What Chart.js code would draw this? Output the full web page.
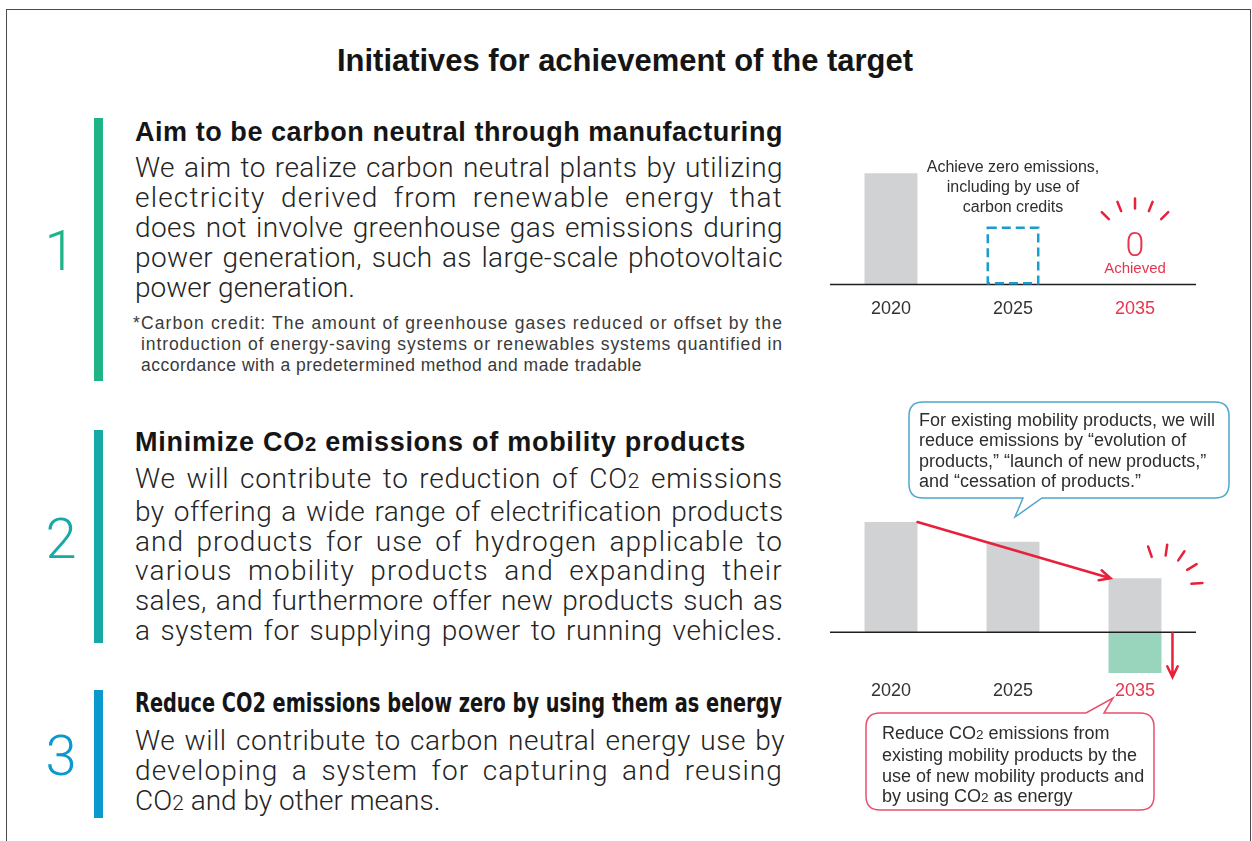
<!DOCTYPE html>
<html>
<head>
<meta charset="utf-8">
<script src="https://cdn.jsdelivr.net/npm/chart.js@4.4.0/dist/chart.umd.min.js"></script>
<style>
html, body { margin: 0; padding: 0; background: #fff; }
body { width: 1252px; height: 841px; position: relative; overflow: hidden;
       font-family: "Liberation Sans", Arial, sans-serif; color: #2d2d2d; }
.frame { position: absolute; left: 6px; top: 9px; width: 1245px; height: 840px; box-sizing: border-box;
         border: 1.5px solid #4a4a4a; border-bottom: none; }
.abs { position: absolute; white-space: nowrap; }
.ln { display: inline-block; white-space: nowrap; transform-origin: left center; }
.title { font-weight: bold; font-size: 31px; line-height: 31px; color: #151515; }
.head { font-weight: bold; font-size: 27px; line-height: 27px; color: #151515; }
.head.cond { font-family: "Liberation Sans Narrow", "DejaVu Sans Condensed", sans-serif; font-size: 26px; }
.body { font-family: Roboto, "Open Sans", sans-serif; font-weight: 300; font-size: 28px; color: #242424; }
.note { font-size: 17.5px; line-height: 21px; color: #3a3a3a; }
.num { font-family: Roboto, "Open Sans", sans-serif; font-weight: 300; font-size: 56px; line-height: 56px; width: 40px; text-align: center; }
.bar { position: absolute; left: 94px; width: 9px; }
.bub { font-size: 18px; line-height: 20.4px; color: #2d2d2d; }
.sub { font-size: 75%; }
canvas { position: absolute; }
svg { position: absolute; left: 0; top: 0; }
</style>
</head>
<body>
<div class="frame"></div>

<div class="abs title" style="left:337px; top:45px;"><span class="ln" data-w="576">Initiatives for achievement of the target</span></div>

<!-- 1 -->
<div class="bar" style="top:118px; height:263px; background:#1fb488;"></div>
<div class="abs num" style="left:40px; top:223px; color:#1fb488;">1</div>
<div class="abs head" style="left:135px; top:119px;"><span class="ln" data-w="648">Aim to be carbon neutral through manufacturing</span></div>
<div class="abs body" style="left:135px; top:153px; line-height:30px;">
  <div><span class="ln j" data-w="648">We aim to realize carbon neutral plants by utilizing</span></div>
  <div><span class="ln j" data-w="648">electricity derived from renewable energy that</span></div>
  <div><span class="ln j" data-w="648">does not involve greenhouse gas emissions during</span></div>
  <div><span class="ln j" data-w="648">power generation, such as large-scale photovoltaic</span></div>
  <div><span class="ln">power generation.</span></div>
</div>
<div class="abs note" style="left:133px; top:313px;">
  <div><span class="ln" data-w="650">*Carbon credit: The amount of greenhouse gases reduced or offset by the</span></div>
  <div style="padding-left:8px;"><span class="ln" data-w="642">introduction of energy-saving systems or renewables systems quantified in</span></div>
  <div style="padding-left:8px;"><span class="ln" data-w="501">accordance with a predetermined method and made tradable</span></div>
</div>

<!-- 2 -->
<div class="bar" style="top:430px; height:213px; background:#16a9a6;"></div>
<div class="abs num" style="left:41px; top:511px; color:#16a9a6;">2</div>
<div class="abs head" style="left:135px; top:429px;"><span class="ln" data-w="611">Minimize CO<span class="sub">2</span> emissions of mobility products</span></div>
<div class="abs body" style="left:135px; top:464px; line-height:29.8px;">
  <div><span class="ln j" data-w="648">We will contribute to reduction of CO<span class="sub">2</span> emissions</span></div>
  <div><span class="ln j" data-w="648">by offering a wide range of electrification products</span></div>
  <div><span class="ln j" data-w="648">and products for use of hydrogen applicable to</span></div>
  <div><span class="ln j" data-w="648">various mobility products and expanding their</span></div>
  <div><span class="ln j" data-w="648">sales, and furthermore offer new products such as</span></div>
  <div><span class="ln j" data-w="648">a system for supplying power to running vehicles.</span></div>
</div>

<!-- 3 -->
<div class="bar" style="top:690px; height:128px; background:#0b98cc;"></div>
<div class="abs num" style="left:41px; top:728px; color:#0b98cc;">3</div>
<div class="abs head cond" style="left:135px; top:690px;"><span class="ln" data-w="647">Reduce CO2 emissions below zero by using them as energy</span></div>
<div class="abs body" style="left:135px; top:726px; line-height:29.8px;">
  <div><span class="ln j" data-w="650">We will contribute to carbon neutral energy use by</span></div>
  <div><span class="ln j" data-w="648">developing a system for capturing and reusing</span></div>
  <div><span class="ln">CO<span class="sub">2</span> and by other means.</span></div>
</div>

<canvas id="plantChart" width="420" height="200" style="left:820px; top:140px;"></canvas>
<canvas id="mobilityChart" width="420" height="210" style="left:820px; top:500px;"></canvas>

<svg width="1252" height="841">
  <path d="M923 402 H1215 Q1229 402 1229 416 V484 Q1229 498 1215 498 H1042 L1015 517 L1023 498 H923 Q909 498 909 484 V416 Q909 402 923 402 Z"
        fill="#fff" stroke="#4ea7cf" stroke-width="1.5"/>
  <path d="M880 713 H1086 L1113 698 L1104 713 H1140 Q1154 713 1154 727 V796 Q1154 810 1140 810 H880 Q866 810 866 796 V727 Q866 713 880 713 Z"
        fill="#fff" stroke="#e8506a" stroke-width="1.5"/>
</svg>

<div class="abs" style="left:913px; top:157px; width:200px; text-align:center; font-size:16px; line-height:20px; color:#2d2d2d;">
  Achieve zero emissions,<br>including by use of<br>carbon credits
</div>
<div class="abs bub" style="left:919px; top:410px;">
  For existing mobility products, we will<br>reduce emissions by “evolution of<br>products,” “launch of new products,”<br>and “cessation of products.”
</div>
<div class="abs bub" style="left:882px; top:723px;">
  Reduce CO<span class="sub">2</span> emissions from<br>existing mobility products by the<br>use of new mobility products and<br>by using CO<span class="sub">2</span> as energy
</div>

<script>
const years = ['2020', '2025', '2035'];

// chart 1: emissions of plants
const plantEmissions = [100, null, 0];
const creditTarget = [null, 52, null];

// chart 2: emissions of mobility products
const productEmissions = [100, 82, 49];
const energyUse = [null, null, -37];

const GRAY = '#d1d2d4';
const GREEN = '#99d4bd';
const RED = '#e8203c';
const RED_LABEL = '#e8354f';
const BLUE = '#1a9ccf';

// stretch each text line to the width it has in the layout
function fitLines() {
    document.querySelectorAll('.ln[data-w]').forEach(el => {
        const w = +el.dataset.w;
        const natural = el.getBoundingClientRect().width;
        if (natural > w) {
            el.style.transform = `scaleX(${w / natural})`;
            return;
        }
        const extra = w - natural;
        const chars = el.textContent.length;
        const spaces = (el.textContent.match(/ /g) || []).length;
        if (el.classList.contains('j') && spaces) {
            el.style.letterSpacing = (extra * 0.6 / chars) + 'px';
            el.style.wordSpacing = (extra * 0.4 / spaces) + 'px';
        } else {
            el.style.letterSpacing = (extra / chars) + 'px';
        }
    });
}

function sparkles(ctx, cx, cy, angles, r0, r1) {
    ctx.save();
    ctx.strokeStyle = RED;
    ctx.lineWidth = 2.5;
    ctx.lineCap = 'round';
    angles.forEach(a => {
        const t = a * Math.PI / 180;
        ctx.beginPath();
        ctx.moveTo(cx + r0 * Math.cos(t), cy + r0 * Math.sin(t));
        ctx.lineTo(cx + r1 * Math.cos(t), cy + r1 * Math.sin(t));
        ctx.stroke();
    });
    ctx.restore();
}

function arrow(ctx, x0, y0, x1, y1) {
    const t = Math.atan2(y1 - y0, x1 - x0);
    ctx.save();
    ctx.strokeStyle = RED;
    ctx.lineWidth = 2.5;
    ctx.lineCap = 'round';
    ctx.beginPath();
    ctx.moveTo(x0, y0);
    ctx.lineTo(x1, y1);
    ctx.moveTo(x1 - 12 * Math.cos(t - 0.45), y1 - 12 * Math.sin(t - 0.45));
    ctx.lineTo(x1, y1);
    ctx.lineTo(x1 - 12 * Math.cos(t + 0.45), y1 - 12 * Math.sin(t + 0.45));
    ctx.stroke();
    ctx.restore();
}

function zeroLine(chart) {
    const { ctx, chartArea, scales } = chart;
    const y0 = scales.y.getPixelForValue(0);
    ctx.save();
    ctx.strokeStyle = '#1e1e1e';
    ctx.lineWidth = 1.5;
    ctx.beginPath();
    ctx.moveTo(chartArea.left, y0);
    ctx.lineTo(chartArea.right, y0);
    ctx.stroke();
    ctx.restore();
    return y0;
}

const plantDecor = {
    id: 'plantDecor',
    afterDatasetsDraw(chart) {
        const { ctx, scales } = chart;
        const y0 = zeroLine(chart);
        // dashed target box for 2025
        const box = chart.getDatasetMeta(1).data[1];
        ctx.save();
        ctx.strokeStyle = BLUE;
        ctx.lineWidth = 2.5;
        ctx.setLineDash([9, 5]);
        ctx.strokeRect(box.x - box.width / 2 + 1.25, box.y + 1.25, box.width - 2.5, box.base - box.y - 2.5);
        ctx.restore();
        // achieved zero for 2035
        const x2 = scales.x.getPixelForValue(2);
        ctx.save();
        ctx.fillStyle = RED_LABEL;
        ctx.textAlign = 'center';
        ctx.font = '300 34px Roboto, sans-serif';
        ctx.fillText('0', x2, y0 - 28);
        ctx.font = '15px "Liberation Sans", Arial, sans-serif';
        ctx.fillText('Achieved', x2, y0 - 11);
        ctx.restore();
        sparkles(ctx, x2, y0 - 39, [-135, -112, -90, -68, -45], 37, 47);
    }
};

const mobilityDecor = {
    id: 'mobilityDecor',
    afterDatasetsDraw(chart) {
        const { ctx } = chart;
        const y0 = zeroLine(chart);
        const bars = chart.getDatasetMeta(0).data;
        const neg = chart.getDatasetMeta(1).data[2];
        const b0 = bars[0], b2 = bars[2];
        arrow(ctx, b0.x + b0.width / 2, b0.y, b2.x - b2.width / 2 + 2, b2.y);
        const xr = b2.x + b2.width / 2 + 11;
        arrow(ctx, xr, y0 + 1, xr, neg.y + 4);
        sparkles(ctx, b2.x + b2.width / 2, b2.y + 7, [-109, -82, -56, -31, -3], 30, 41);
    }
};

function xAxis(pad) {
    return {
        stacked: true,
        grid: { display: false, drawTicks: false },
        border: { display: false },
        ticks: {
            padding: pad,
            color: c => c.index === 2 ? RED_LABEL : '#333',
            font: { size: 18, family: '"Liberation Sans", Arial, sans-serif' }
        }
    };
}

function makeCharts() {
    new Chart(document.getElementById('plantChart'), {
        type: 'bar',
        data: {
            labels: years,
            datasets: [
                { data: plantEmissions, backgroundColor: GRAY },
                { data: creditTarget, backgroundColor: 'rgba(0,0,0,0)' }
            ]
        },
        options: {
            responsive: false,
            animation: false,
            categoryPercentage: 1,
            barPercentage: 0.434,
            layout: { padding: { left: 10, right: 44, top: 11, bottom: 6 } },
            scales: {
                x: xAxis(14),
                y: { display: false, stacked: true, min: 0, max: 120 }
            },
            plugins: { legend: { display: false }, tooltip: { enabled: false } }
        },
        plugins: [plantDecor]
    });

    new Chart(document.getElementById('mobilityChart'), {
        type: 'bar',
        data: {
            labels: years,
            datasets: [
                { data: productEmissions, backgroundColor: GRAY },
                { data: energyUse, backgroundColor: GREEN }
            ]
        },
        options: {
            responsive: false,
            animation: false,
            categoryPercentage: 1,
            barPercentage: 0.434,
            layout: { padding: { left: 10, right: 44, top: 11, bottom: 4 } },
            scales: {
                x: xAxis(4),
                y: { display: false, stacked: true, min: -40, max: 110 }
            },
            plugins: { legend: { display: false }, tooltip: { enabled: false } }
        },
        plugins: [mobilityDecor]
    });
}

document.fonts.ready.then(() => {
    fitLines();
    makeCharts();
});
</script>
</body>
</html>
